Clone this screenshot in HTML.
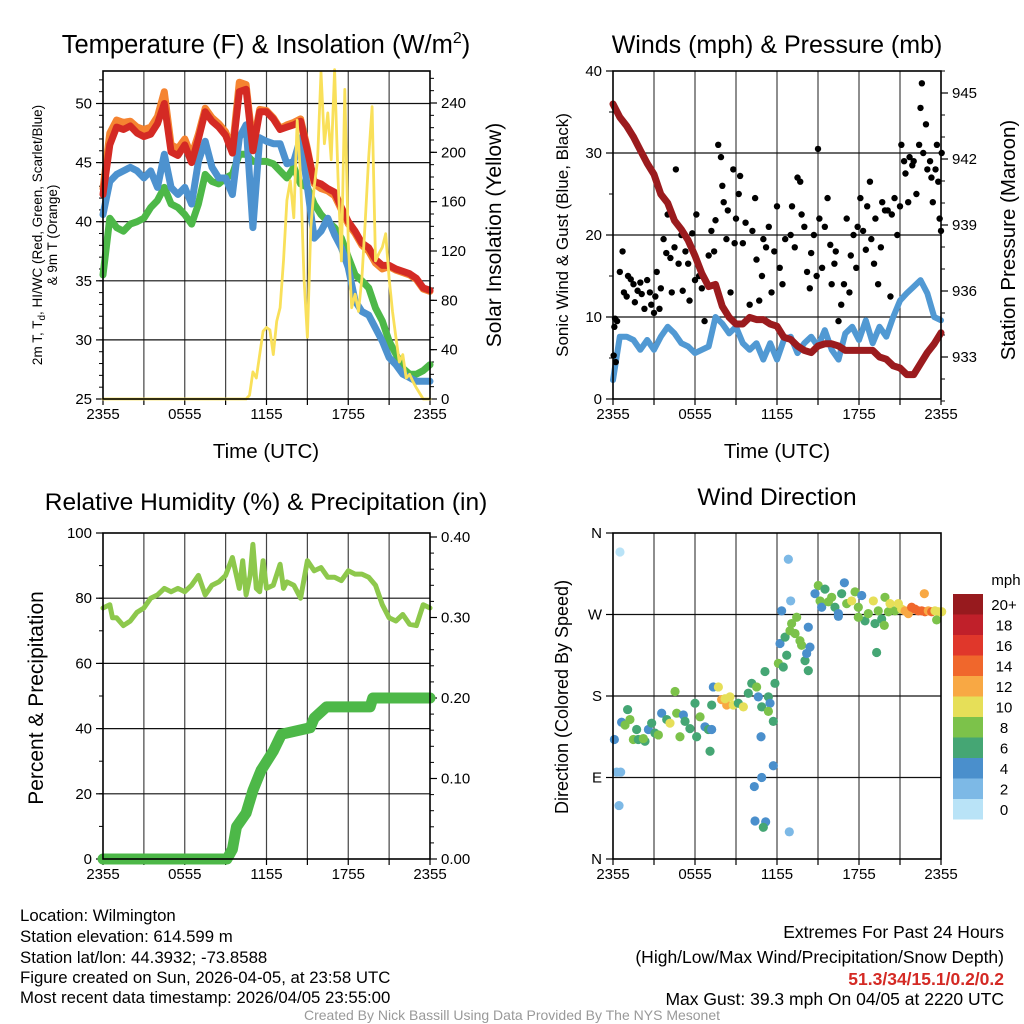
<!DOCTYPE html>
<html><head><meta charset="utf-8"><style>
html,body{margin:0;padding:0;background:#fff;}
svg{display:block;font-family:"Liberation Sans",sans-serif;}
</style></head><body>
<svg id="c" width="1024" height="1024" viewBox="0 0 1024 1024">
<g id="bg"></g>
<text x="266" y="53" font-size="25.5" text-anchor="middle">Temperature (F) &amp; Insolation (W/m<tspan dy="-10" font-size="16">2</tspan><tspan dy="10">)</tspan></text>
<text x="777" y="53" font-size="25" text-anchor="middle">Winds (mph) &amp; Pressure (mb)</text>
<text x="266" y="510" font-size="24.5" text-anchor="middle">Relative Humidity (%) &amp; Precipitation (in)</text>
<text x="777" y="505" font-size="24.5" text-anchor="middle">Wind Direction</text>
<text x="266" y="458" font-size="20.5" text-anchor="middle">Time (UTC)</text>
<text x="777" y="458" font-size="20.5" text-anchor="middle">Time (UTC)</text>
<g font-size="13.5" text-anchor="middle">
<text transform="translate(42,235) rotate(-90)">2m T, T<tspan dy="3" font-size="10">d</tspan><tspan dy="-3">, HI/WC (Red, Green, Scarlet/Blue)</tspan></text>
<text transform="translate(57,235) rotate(-90)">&amp; 9m T (Orange)</text>
</g>
<text transform="translate(501,235) rotate(-90)" font-size="21" text-anchor="middle">Solar Insolation (Yellow)</text>
<text transform="translate(568,235) rotate(-90)" font-size="17" text-anchor="middle">Sonic Wind &amp; Gust (Blue, Black)</text>
<text transform="translate(1015,240) rotate(-90)" font-size="20.5" text-anchor="middle">Station Pressure (Maroon)</text>
<text transform="translate(43,698) rotate(-90)" font-size="21" text-anchor="middle">Percent &amp; Precipitation</text>
<text transform="translate(568,697) rotate(-90)" font-size="18" text-anchor="middle">Direction (Colored By Speed)</text>
<text x="1006" y="585" font-size="15" text-anchor="middle">mph</text>
<g font-size="16.8">
<text x="20" y="921">Location: Wilmington</text>
<text x="20" y="942">Station elevation: 614.599 m</text>
<text x="20" y="963">Station lat/lon: 44.3932; -73.8588</text>
<text x="20" y="983">Figure created on Sun, 2026-04-05, at 23:58 UTC</text>
<text x="20" y="1003">Most recent data timestamp: 2026/04/05 23:55:00</text>
</g>
<g font-size="17.5" text-anchor="end">
<text x="1004" y="938">Extremes For Past 24 Hours</text>
<text x="1004" y="963">(High/Low/Max Wind/Precipitation/Snow Depth)</text>
<text x="1004" y="985" font-weight="bold" fill="#d42a24">51.3/34/15.1/0.2/0.2</text>
<text x="1004" y="1005">Max Gust: 39.3 mph On 04/05 at 2220 UTC</text>
</g>
<text x="512" y="1020" font-size="14" fill="#999" text-anchor="middle">Created By Nick Bassill Using Data Provided By The NYS Mesonet</text>
</svg>
<script>
// ---------- data ----------
const tHours = [0,0.5,1,1.5,2,2.5,3,3.5,4,4.5,5,5.5,6,6.5,7,7.5,8,8.5,9,9.5,10,10.5,11,11.5,12,12.5,13,13.5,14,14.5,15,15.5,16,16.5,17,17.5,18,18.5,19,19.5,20,20.5,21,21.5,22,22.5,23,23.5,24];
const tempRed = [42.3,46.5,48,47.8,48.1,47.5,47.2,47.4,48.3,50,45.9,45.6,46.5,45,47,49.3,48.5,48,47.3,45.8,51,51.2,46,49.3,49.3,48.7,47.8,48,48.2,48.5,46,43.4,43.2,42.8,42.5,41.2,40,39.2,38.2,37.8,36.8,36.3,36.3,36,35.8,35.6,35.2,34.4,34.2];
const tempOrange = [42.8,47.5,48.6,48.4,48.5,48,47.8,48,48.9,51,46.5,46.2,47,45.6,47.4,49.6,48.8,48.3,47.6,46.2,51.8,51.6,46.5,49.5,49.4,48.8,47.9,48.2,48.4,48.7,46.2,43.2,42.8,42.6,42.2,41,39.8,39,38,37.5,36.5,36,36.2,35.9,35.7,35.5,35.1,34.3,34.1];
const dewGreen = [35.5,40.3,39.5,39.2,39.8,40,40.3,41.2,41.8,42.9,41.5,41.2,40.6,39.8,41.5,44,43.4,43.2,43.7,44,45.7,45.7,45.1,45.1,45.1,44.9,44.3,43.7,44.6,43.2,42.9,41.5,40.6,40,39.5,38.6,37,35.5,35,34.4,32.7,31.6,29.9,28.8,27.6,27.1,27.1,27.4,27.9];
const hiwcBlue = [40.6,43.4,44,44.3,44.6,44.3,43.7,44.3,42.9,45.7,42.9,42.3,42.9,41.5,45.1,46.8,44.6,43.7,43.7,42.3,47.1,48.2,39.5,47.1,46.8,46.6,46.6,44.9,45.1,47.1,42.9,38.6,39.2,40.3,38.9,37.8,36.1,33.3,32.4,32.1,31,29.9,28.5,27.9,27.1,26.8,26.5,26.5,26.5];
const insHours = [0,10.5,10.75,11,11.25,11.5,11.75,12,12.25,12.5,12.75,13,13.25,13.5,13.75,14,14.25,14.5,14.75,15,15.25,15.5,15.75,16,16.25,16.5,16.75,17,17.25,17.5,17.75,18,18.25,18.5,18.75,19,19.25,19.5,19.75,20,20.25,20.5,20.75,21,21.25,21.5,21.75,22,22.25,22.5,22.75,23,23.5,24];
const insVals = [0,0,3,22,17,36,55,58,56,36,63,74,112,161,177,147,226,180,98,50,139,172,194,265,207,232,194,267,180,112,251,126,74,85,71,98,145,196,237,112,118,123,134,98,71,50,30,36,17,20,14,9,0,0];
const windBlue = [2.3,7.6,7.6,7.2,6,7.2,6,7.6,8.8,8,6.8,6.4,5.6,6,6.4,10,9.2,8,8.8,6.8,6,6.8,4.8,6.8,4.8,7.2,7.6,5.6,6.8,7.6,6.4,8.4,6,4.8,8,8.8,7.2,9.6,6.8,8.8,7.6,10,12,12.9,13.7,14.5,12.9,10,9.6];
const pressure = [944.5,943.9,943.5,943.0,942.4,941.8,941.3,940.4,940.0,939.2,938.8,938.3,937.6,936.8,936.2,936.3,935.3,934.8,934.5,934.5,934.8,934.7,934.7,934.5,934.4,933.9,933.8,933.5,933.3,933.2,933.5,933.6,933.6,933.5,933.3,933.3,933.3,933.3,933.3,933.0,932.9,932.6,932.5,932.2,932.2,932.7,933.2,933.6,934.1];
const gustHours = [0.05,0.1,0.15,0.2,0.3,0.5,0.7,0.8,1.0,1.1,1.3,1.5,1.6,1.8,2.0,2.1,2.3,2.5,2.7,2.8,3.0,3.1,3.2,3.4,3.5,3.7,3.9,4.0,4.2,4.3,4.5,4.6,4.8,5.0,5.1,5.3,5.5,5.6,5.8,6.0,6.1,6.3,6.5,6.7,6.9,7.0,7.2,7.4,7.5,7.7,7.9,8.0,8.1,8.3,8.4,8.6,8.8,8.9,9.0,9.2,9.3,9.5,9.7,10.0,10.2,10.4,10.5,10.7,10.9,11.0,11.2,11.4,11.6,11.8,12.0,12.2,12.4,12.6,13.0,13.1,13.3,13.5,13.7,13.8,14.0,14.2,14.4,14.5,14.7,14.9,15.0,15.1,15.3,15.5,15.7,15.9,16.0,16.2,16.3,16.5,16.7,16.9,17.1,17.3,17.4,17.6,17.8,17.9,18.1,18.3,18.5,18.6,18.8,18.9,19.1,19.2,19.4,19.6,19.7,19.9,20.1,20.3,20.4,20.6,20.8,21.0,21.1,21.3,21.4,21.6,21.7,21.9,22.0,22.2,22.4,22.5,22.6,22.7,22.9,23.0,23.2,23.3,23.4,23.6,23.7,23.8,23.9,24.0,24.05];
const gustVals = [5.3,8.8,9.8,4.5,9.5,15.5,18,13,12.5,15,14.6,14,11.8,13.2,14.2,12.8,11,14.5,13,11.5,10.5,12.5,15.5,11,13.5,19.5,17.8,22.5,17.2,13,18.5,28,16.5,20,13.2,18,16.5,12,20.2,14.5,22.5,15,13.5,9.5,14,17.5,20.5,18,21.8,31,29.5,26,24,19.5,23,13,28,19,22,25,27.2,19,21.5,11.5,20.5,24.5,17,12,15,19.5,18.5,21,13,18,23.5,16,14,19.5,20,23.5,18.5,27,26.5,22.5,21,15.5,13.5,17.8,20,15,30.5,22,16,21,24.5,18.8,14,16.5,18,9.5,11.5,14,22,13,17.5,20,16,21,24.5,20.5,18.2,23.5,26.5,19.5,16.5,22,14,18.5,24,23,23,12.5,22.5,24.5,20,23.5,31,29,27.5,24,29.5,28.5,29,25,31,35.5,38.5,30,33.5,28,29,27,24,28,31,26.5,22,20.5,30];
const rhHours = [0,0.5,0.7,1,1.5,2,2.5,3,3.5,4,4.5,5,5.5,6,6.5,7,7.5,8,8.5,9,9.5,10,10.25,10.5,10.8,11,11.25,11.5,11.75,12,12.5,13,13.25,13.5,14,14.5,15,15.5,16,16.5,17,17.5,18,18.5,19,19.5,20,20.5,21,21.5,22,22.5,23,23.5,24];
const rhVals = [77,78,74,74,71.6,73,75.7,77,80,81,83,82,83,82,84,87,81,84,85,87,92.5,83,91.5,81,87,96.5,83,82,91.5,83,84,90.4,83,85,84,80,91.5,88.4,89.4,86.4,86.4,85.4,88.4,87.4,87.4,86.4,84,78,74,73,75,72,71.6,78,77];
const precipHours = [0,9.1,9.5,9.8,10.5,11,11.6,12.5,13.1,15.2,15.5,16.4,19.6,19.8,24];
const precipVals = [0,0,0.012,0.04,0.057,0.085,0.11,0.134,0.155,0.163,0.175,0.189,0.189,0.2,0.2];
const dirHours = [0.51,0.1,0.27,0.56,0.44,0.63,0.88,1.07,1.24,1.49,1.73,1.85,2.34,2.22,2.59,2.83,3.07,3.32,3.56,3.93,4.17,4.54,4.66,4.9,5.15,5.27,5.63,6.0,6.12,6.37,6.73,6.98,7.22,7.1,7.34,7.71,7.22,7.95,8.32,8.2,8.56,8.8,9.17,9.54,9.9,10.15,10.51,10.63,10.88,11.12,11.37,11.49,11.73,11.37,10.83,10.34,10.88,11.73,10.39,11.17,11.0,11.85,12.1,12.46,12.71,12.22,12.59,12.95,13.07,13.32,13.44,13.68,13.8,14.05,14.29,14.17,14.41,14.29,12.34,12.83,13.0,12.9,15.02,14.78,15.15,15.27,15.51,15.76,16.0,16.24,16.49,16.73,16.93,17.1,17.46,17.71,17.95,18.2,18.44,18.68,19.05,19.17,19.41,19.66,19.9,19.85,19.29,20.15,20.27,20.63,20.88,21.12,21.37,21.61,21.85,22.1,22.34,22.59,22.78,22.83,23.07,23.32,23.56,23.8,23.68,24.05,16.49,17.95];
const dirDeg = [339,132,96,96,59,151,148,165,154,132,143,132,130,133,143,150,139,137,161,154,150,185,161,135,159,152,144,172,135,157,146,143,143,119,190,190,170,176,170,177,179,170,172,168,183,194,190,179,168,207,179,172,152,163,135,80,90,103,42,41,35,194,216,212,225,238,245,252,260,249,267,241,236,219,208,227,234,256,274,331,285,30,302,293,285,278,298,284,289,278,271,293,305,282,285,295,278,291,263,271,285,260,274,265,289,258,228,273,282,274,282,276,274,271,278,276,274,274,293,273,274,273,274,273,264,273,268,267];
const dirSpeed = [1,5,3,3,3,5,9,7,9,9,7,7,7,9,5,7,7,9,5,7,11,9,9,9,5,7,7,7,7,9,5,7,5,7,5,11,7,13,13,11,11,11,7,11,7,7,9,5,7,7,7,5,7,9,5,5,5,5,5,5,7,7,9,7,7,5,7,9,9,9,9,9,9,7,7,5,5,5,5,3,3,3,9,5,9,5,7,9,9,7,5,7,5,9,11,9,9,5,7,9,11,7,9,7,9,9,7,9,11,9,11,11,13,13,15,15,15,15,13,15,13,15,11,11,9,11,5,9];
const speedBins = ["0","2","4","6","8","10","12","14","16","18","20+"];
const speedColors = ["#b9e3f7","#7db9e6","#4a8fcc","#45a674","#7cc24a","#e6df58","#f8a844","#f0672c","#e0372b","#c0202a","#971a1e"];
const timeTicks = ["2355","0555","1155","1755","2355"];
const tempTicks = [25,30,35,40,45,50];
const insTicks = [0,40,80,120,160,200,240];
const windTicks = [0,10,20,30,40];
const presTicks = [933,936,939,942,945];
const rhTicks = [0,20,40,60,80,100];
const prTicks = [0,0.1,0.2,0.3,0.4];
const dirTicks = [0,90,180,270,360];
const dirLabels = ["N","E","S","W","N"];

// ---------- helpers ----------
const NS = "http://www.w3.org/2000/svg";
const svg = document.getElementById("c");
const bg = document.getElementById("bg");
function mk(tag, parent) { const e = document.createElementNS(NS, tag); (parent || svg).appendChild(e); return e; }
function lin(d0, d1, r0, r1) { return v => r0 + (v - d0) * (r1 - r0) / (d1 - d0); }

const P = [
  {x0:103,x1:430,y0:71,y1:399},
  {x0:613,x1:941,y0:71,y1:399},
  {x0:103,x1:430,y0:533,y1:859},
  {x0:613,x1:941,y0:533,y1:859}
];
P.forEach(p => { p.x = lin(0, 24, p.x0, p.x1); });
const tempY = lin(25, 50, 399, 103.5);
const insY = lin(0, 240, 399, 103);
const windY = lin(0, 40, 399, 71);
const presY = lin(933, 945, 357, 93);
const rhY = lin(0, 100, 859, 533);
const prY = lin(0, 0.4, 859, 537);
const dirY = lin(0, 360, 859, 533);

function line(x1, y1, x2, y2, stroke, w, parent) {
  const l = mk("line", parent);
  l.setAttribute("x1", x1); l.setAttribute("y1", y1); l.setAttribute("x2", x2); l.setAttribute("y2", y2);
  l.setAttribute("stroke", stroke); l.setAttribute("stroke-width", w);
  return l;
}
function txt(x, y, s, anchor, size, parent) {
  const t = mk("text", parent);
  t.setAttribute("x", x); t.setAttribute("y", y); t.setAttribute("text-anchor", anchor); t.setAttribute("font-size", size);
  t.textContent = s; return t;
}
function series(xs, ys, xf, yf, color, w, parent) {
  const pl = mk("polyline", parent);
  pl.setAttribute("points", xs.map((h, i) => xf(h).toFixed(1) + "," + yf(ys[i]).toFixed(1)).join(" "));
  pl.setAttribute("fill", "none"); pl.setAttribute("stroke", color); pl.setAttribute("stroke-width", w);
  pl.setAttribute("stroke-linejoin", "round"); pl.setAttribute("stroke-linecap", "round");
  return pl;
}

// grids & frames
P.forEach((p, i) => {
  const g = mk("g", bg);
  
  
  for (let h = 3; h < 24; h += 3) line(p.x(h), p.y0, p.x(h), p.y1, "#444", 1.2, g);
  for (let h = 0; h <= 24; h += 3) line(p.x(h), p.y1, p.x(h), p.y1 + 6, "#000", 1.2, g);
  timeTicks.forEach((s, k) => {
    const t = txt(p.x(k * 6), p.y1 + 20, s, "middle", 15, g);
    
    
  });
});
tempTicks.slice(1).forEach(v => line(P[0].x0, tempY(v), P[0].x1, tempY(v), "#111", 1.2, bg));
windTicks.slice(1, 4).forEach(v => line(P[1].x0, windY(v), P[1].x1, windY(v), "#111", 1.2, bg));
rhTicks.slice(1, 5).forEach(v => line(P[2].x0, rhY(v), P[2].x1, rhY(v), "#111", 1.2, bg));
dirTicks.slice(1, 4).forEach(v => line(P[3].x0, dirY(v), P[3].x1, dirY(v), "#111", 1.2, bg));

function yAxis(ticks, labels, yf, xEdge, dir, minorStep, lo, hi, name) {
  const g = mk("g");
  
  
  ticks.forEach((v, k) => {
    line(xEdge, yf(v), xEdge + dir * 7, yf(v), "#000", 1.2, g);
    txt(xEdge + dir * 11, yf(v) + 5, labels[k], dir < 0 ? "end" : "start", 15, g);
  });
  if (minorStep) for (let v = lo; v <= hi + 1e-9; v += minorStep) line(xEdge, yf(v), xEdge + dir * 4, yf(v), "#000", 1, g);
}
yAxis(tempTicks, tempTicks.map(String), tempY, 103, -1, 1, 25, 52, "temp-y-axis");
yAxis(insTicks, insTicks.map(String), insY, 430, 1, 10, 0, 260, "insolation-y-axis");
yAxis(windTicks, windTicks.map(String), windY, 613, -1, 5, 0, 40, "wind-y-axis");
yAxis(presTicks, presTicks.map(String), presY, 941, 1, 1, 931, 946, "pressure-y-axis");
yAxis(rhTicks, rhTicks.map(String), rhY, 103, -1, 10, 0, 100, "rh-y-axis");
yAxis(prTicks, prTicks.map(v => v.toFixed(2)), prY, 430, 1, 0.02, 0, 0.4, "precip-y-axis");
yAxis(dirTicks, dirLabels, dirY, 613, -1, 0, 0, 0, "direction-y-axis");

// ---------- marks ----------
const sGreen = series(tHours, dewGreen, P[0].x, tempY, "#4db848", 7);


const sBlue = series(tHours, hiwcBlue, P[0].x, tempY, "#4d92cf", 7);


const sOr = series(tHours, tempOrange, P[0].x, tempY, "#f58431", 7);


const sRed = series(tHours, tempRed, P[0].x, tempY, "#d42a24", 7);


const sInsol = series(insHours, insVals, P[0].x, insY, "#f9e05a", 2.8);



const sWind = series(tHours, windBlue, P[1].x, windY, "#5199d3", 6);


const gg = mk("g");


gustHours.forEach((h, i) => {
  const c = mk("circle", gg);
  c.setAttribute("cx", P[1].x(h)); c.setAttribute("cy", windY(gustVals[i])); c.setAttribute("r", 3.2); c.setAttribute("fill", "#000");
  
  
});
const sPres = series(tHours, pressure, P[1].x, presY, "#9b1b1e", 7);



const sRh = series(rhHours, rhVals, P[2].x, rhY, "#8dc84c", 5);


const sPr = series(precipHours, precipVals, P[2].x, prY, "#4db848", 11);



const dg = mk("g");


dirHours.forEach((h, i) => {
  const c = mk("circle", dg);
  const bin = Math.min(10, Math.floor(dirSpeed[i] / 2));
  c.setAttribute("cx", P[3].x(h)); c.setAttribute("cy", dirY(dirDeg[i])); c.setAttribute("r", 4.6); c.setAttribute("fill", speedColors[bin]);
  
  
});

const cb = mk("g");


speedBins.forEach((s, k) => {
  const idx = 10 - k;
  const r = mk("rect", cb);
  r.setAttribute("x", 953); r.setAttribute("y", 594 + k * 20.5); r.setAttribute("width", 30); r.setAttribute("height", 20.5);
  r.setAttribute("fill", speedColors[idx]);
  
  
  txt(1004, 594 + k * 20.5 + 16, speedBins[idx], "middle", 15, cb);
});

P.forEach((p, i) => {
  const r = mk("rect");
  r.setAttribute("x", p.x0); r.setAttribute("y", p.y0); r.setAttribute("width", p.x1 - p.x0); r.setAttribute("height", p.y1 - p.y0);
  r.setAttribute("fill", "none"); r.setAttribute("stroke", "#000"); r.setAttribute("stroke-width", 1.6);
  
  
});
</script>
</body></html>
